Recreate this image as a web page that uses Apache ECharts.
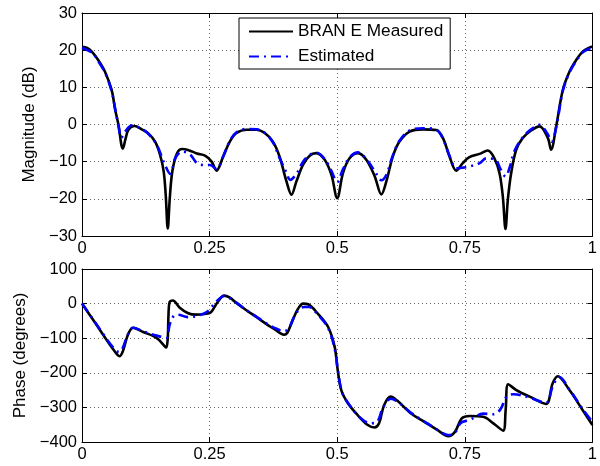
<!DOCTYPE html>
<html>
<head>
<meta charset="utf-8">
<script src="https://cdn.jsdelivr.net/npm/echarts@6/dist/echarts.min.js"></script>
<style>
  html, body { margin: 0; padding: 0; background: #fff; }
  #chart { width: 600px; height: 466px; }
</style>
</head>
<body>
<div id="chart"></div>
<script>
// x axis ticks (normalised frequency)
const xTicks = [0, 0.25, 0.5, 0.75, 1];

// magnitude, measured (dB)
const measMagX = [0, 0.01, 0.02, 0.032, 0.045, 0.058, 0.065, 0.072, 0.077, 0.08, 0.085, 0.091, 0.103, 0.117, 0.13,
  0.1435, 0.153, 0.16, 0.164, 0.168, 0.172, 0.177, 0.186, 0.196, 0.209, 0.225, 0.241, 0.254, 0.2635, 0.2766,
  0.2896, 0.3027, 0.3223, 0.342, 0.358, 0.374, 0.387, 0.4006, 0.4104, 0.4201, 0.4331, 0.446, 0.459, 0.4755,
  0.4886, 0.5, 0.5114, 0.5245, 0.541, 0.557, 0.5734, 0.5865, 0.5963, 0.609, 0.622, 0.642, 0.668, 0.694, 0.707,
  0.72, 0.7332, 0.746, 0.759, 0.779, 0.795, 0.808, 0.818, 0.8245, 0.8297, 0.8343, 0.8408, 0.8507, 0.8636, 0.88,
  0.8963, 0.9126, 0.919, 0.929, 0.942, 0.955, 0.968, 0.981, 0.994, 1];
const measMagY = [20.9, 20.6, 19.5, 17.3, 14.2, 9.3, 4.0, -0.5, -5.4, -6.5, -4.0, -1.4, -0.4, -1.3, -2.4,
  -4.7, -8.2, -12.6, -18.9, -28.0, -19.8, -12.6, -7.8, -6.6, -6.9, -7.8, -8.4, -10.0, -12.4, -8.6,
  -4.6, -2.3, -1.4, -1.4, -2.3, -4.6, -8.6, -15.3, -18.9, -15.3, -10.8, -8.4, -7.7, -9.5,
  -13.5, -19.8, -13.0, -9.0, -7.7, -9.5, -13.9, -18.8, -15.3, -8.6, -4.6, -1.9, -1.3, -1.5, -3.6,
  -8.6, -12.4, -10.4, -8.8, -7.9, -7.0, -9.1, -13.1, -19.4, -28.1, -20.2, -13.1, -6.8, -3.6, -1.6,
  -0.5, -3.6, -6.8, -0.5, 9.3, 14.2, 17.3, 19.6, 20.7, 20.9];

// magnitude, estimated (dB)
const estMagX = [0, 0.02, 0.032, 0.045, 0.058, 0.065, 0.072, 0.077, 0.083, 0.098, 0.117, 0.13, 0.147, 0.16,
  0.173, 0.183, 0.196, 0.212, 0.225, 0.238, 0.251, 0.2635, 0.2766, 0.2896, 0.3027, 0.3223, 0.342, 0.358,
  0.374, 0.387, 0.4, 0.408, 0.4201, 0.4331, 0.446, 0.459, 0.4755, 0.4886, 0.5, 0.5114, 0.5245, 0.541, 0.557,
  0.5734, 0.5865, 0.5963, 0.609, 0.622, 0.642, 0.668, 0.694, 0.707, 0.72, 0.7332, 0.746, 0.759, 0.779, 0.792,
  0.81, 0.82, 0.83, 0.838, 0.847, 0.8636, 0.88, 0.8963, 0.912, 0.92, 0.929, 0.942, 0.955, 0.968, 0.981, 0.994, 1];
const estMagY = [20.6, 19.3, 17.0, 14.0, 9.0, 4.2, -0.8, -3.6, -2.2, -0.2, -1.2, -2.5, -5.6, -10.0,
  -13.3, -9.0, -7.3, -8.1, -10.4, -10.9, -10.9, -12.0, -8.6, -4.4, -2.1, -1.2, -1.3, -2.2,
  -4.8, -9.0, -12.8, -14.9, -13.3, -10.0, -8.2, -7.6, -9.3, -12.5, -15.5, -12.0, -8.8, -7.5, -9.3,
  -12.5, -15.0, -13.5, -8.3, -4.4, -1.6, -1.0, -1.4, -3.8, -8.4, -11.8, -11.6, -11.3, -10.4, -9.1,
  -9.5, -12.0, -14.0, -11.5, -7.2, -3.4, -1.3, -0.1, -2.5, -4.6, -0.8, 9.0, 14.0, 17.0, 19.4, 20.4, 20.6];

// phase, measured (degrees)
const measPhX = [0, 0.02, 0.04, 0.06, 0.07, 0.074, 0.08, 0.09, 0.1, 0.11, 0.12, 0.14, 0.15, 0.16, 0.165,
  0.168, 0.1695, 0.1716, 0.178, 0.191, 0.207, 0.223, 0.24, 0.2526, 0.2655, 0.2785, 0.29, 0.3, 0.32, 0.34,
  0.36, 0.38, 0.39, 0.396, 0.402, 0.41, 0.418, 0.4236, 0.433, 0.443, 0.462, 0.482, 0.495, 0.501, 0.508,
  0.521, 0.54, 0.56, 0.573, 0.582, 0.592, 0.605, 0.618, 0.644, 0.67, 0.696, 0.718, 0.731, 0.744, 0.76,
  0.786, 0.806, 0.825, 0.83, 0.835, 0.851, 0.877, 0.909, 0.922, 0.932, 0.955, 0.981, 1];
const measPhY = [0, -43, -87, -130, -149, -152, -138, -90, -70, -75, -82, -94, -104, -120, -127,
  -100, -30, 4, 9, -11, -27, -32, -30, -25, 4, 23, 17, 5, -17, -37,
  -58, -77, -87, -90, -85, -58, -30, -14, 0, -2, -29, -67, -125, -192, -250,
  -288, -322, -351, -358, -346, -293, -269, -281, -317, -341, -365, -383, -370, -332, -325,
  -327, -346, -367, -308, -233, -250, -269, -290, -231, -210, -250, -308, -351];

// phase, estimated (degrees)
const estPhX = [0, 0.02, 0.04, 0.06, 0.073, 0.08, 0.09, 0.1, 0.12, 0.14, 0.155, 0.165, 0.172, 0.18, 0.188,
  0.207, 0.227, 0.246, 0.262, 0.2785, 0.3, 0.32, 0.34, 0.36, 0.38, 0.395, 0.405, 0.415, 0.425, 0.435, 0.445,
  0.462, 0.482, 0.495, 0.502, 0.51, 0.525, 0.545, 0.565, 0.578, 0.59, 0.605, 0.62, 0.644, 0.67, 0.696,
  0.718, 0.73, 0.742, 0.76, 0.786, 0.806, 0.82, 0.832, 0.845, 0.877, 0.909, 0.922, 0.935, 0.955, 0.981, 1];
const estPhY = [0, -42, -85, -125, -140, -128, -88, -70, -80, -90, -96, -100, -60, -35, -32,
  -39, -35, -23, 4, 22, 5, -17, -36, -56, -72, -80, -72, -40, -18, -10, -10,
  -32, -70, -130, -200, -258, -295, -330, -346, -342, -300, -275, -285, -315, -340, -364,
  -380, -375, -345, -336, -318, -320, -305, -268, -262, -272, -287, -240, -212, -248, -305, -342];

const zip = (xs, ys) => xs.map((x, i) => [x, ys[i]]);
const minus = v => String(v).replace('-', '\u2212');

const font = 'Liberation Sans, Arial, Helvetica, sans-serif';
const gridLine = { show: true, lineStyle: { color: '#666', type: [1, 3], width: 1 } };

function xAxisFor(gridIndex, labels) {
  return {
    type: 'value', gridIndex, min: 0, max: 1, interval: 0.25,
    position: labels ? 'bottom' : 'top',
    axisLine: { show: true, onZero: false, lineStyle: { color: '#000', width: 1 } },
    axisTick: { show: true, inside: true, length: 5, lineStyle: { color: '#000' } },
    axisLabel: { show: labels, color: '#000', fontSize: 16.5, fontFamily: font, margin: 4,
      showMinLabel: true, showMaxLabel: true },
    splitLine: labels ? gridLine : { show: false }
  };
}

function yAxisFor(gridIndex, min, max, interval, name, nameGap, labels) {
  return {
    type: 'value', gridIndex, min, max, interval,
    position: labels ? 'left' : 'right',
    name: labels ? name : '', nameLocation: 'middle', nameGap, nameRotate: 90,
    nameTextStyle: { color: '#000', fontSize: 17, fontFamily: font },
    axisLine: { show: true, onZero: false, lineStyle: { color: '#000', width: 1 } },
    axisTick: { show: true, inside: true, length: 5, lineStyle: { color: '#000' } },
    axisLabel: { show: labels, color: '#000', fontSize: 16.5, fontFamily: font, margin: 5,
      formatter: minus, showMinLabel: true, showMaxLabel: true },
    splitLine: labels ? gridLine : { show: false }
  };
}

const measStyle = { color: '#000', width: 2.6, type: 'solid' };
const estStyle = { color: '#0000ff', width: 2.6, type: [10, 5, 2, 5] };

function lineSeries(name, x, y, xi, yi, style, z) {
  return {
    name, type: 'line', xAxisIndex: xi, yAxisIndex: yi, z,
    data: zip(x, y), showSymbol: false, symbol: 'none', smooth: 0.35,
    color: style.color, lineStyle: style
  };
}

const chart = echarts.init(document.getElementById('chart'), null, { renderer: 'canvas' });
chart.setOption({
  animation: false,
  backgroundColor: '#fff',
  textStyle: { fontFamily: font },
  grid: [
    { left: 82, width: 511, top: 13, height: 223 },
    { left: 82, width: 515, top: 269, height: 173 }
  ],
  xAxis: [
    xAxisFor(0, true), xAxisFor(1, true),
    xAxisFor(0, false), xAxisFor(1, false)
  ],
  yAxis: [
    yAxisFor(0, -30, 30, 10, 'Magnitude (dB)', 42, true),
    yAxisFor(1, -400, 100, 100, 'Phase (degrees)', 49, true),
    yAxisFor(0, -30, 30, 10, '', 0, false),
    yAxisFor(1, -400, 100, 100, '', 0, false)
  ],
  legend: {
    orient: 'vertical', left: 239, top: 18,
    padding: [5, 7, 4, 9], itemGap: 8, itemWidth: 44, itemHeight: 16,
    backgroundColor: '#fff', borderColor: '#000', borderWidth: 1, borderRadius: 0,
    itemStyle: { opacity: 0 },
    textStyle: { color: '#000', fontSize: 17.2, fontFamily: font, lineHeight: 16 },
    data: ['BRAN E Measured', 'Estimated']
  },
  series: [
    lineSeries('BRAN E Measured', measMagX, measMagY, 0, 0, measStyle, 2),
    lineSeries('Estimated', estMagX, estMagY, 0, 0, estStyle, 3),
    lineSeries('BRAN E Measured', measPhX, measPhY, 1, 1, measStyle, 2),
    lineSeries('Estimated', estPhX, estPhY, 1, 1, estStyle, 3)
  ]
});
</script>
</body>
</html>
